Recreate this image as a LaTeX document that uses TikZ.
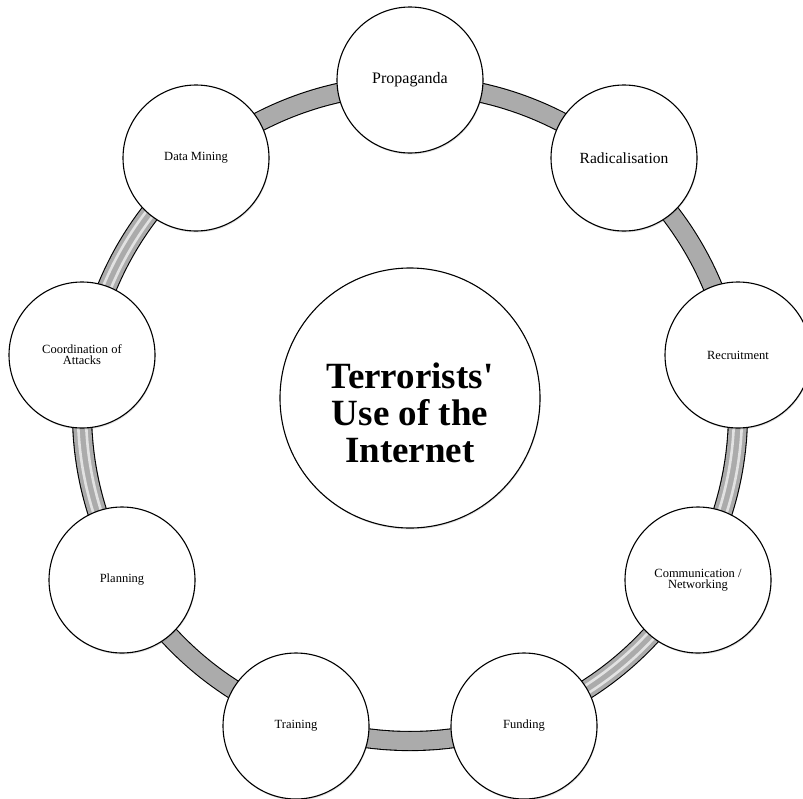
\documentclass[tikz,border=0pt]{standalone}
\usepackage{fontspec}
\setmainfont{Liberation Serif}
\newfontfamily\hubfont{Liberation Serif}
\usetikzlibrary{shadows}
\pgfdeclarelayer{background}
\pgfsetlayers{background,main}
\definecolor{bandgray}{HTML}{ABABAB}
\definecolor{stripegray}{HTML}{E2E2E2}
\begin{document}
\begin{tikzpicture}[x=1pt,y=-1pt,
  item/.style={circle,draw=black,line width=1.1pt,fill=white,minimum size=146pt,inner sep=0pt,align=center,
    font=\fontsize{12.5}{11}\selectfont,
    drop shadow={shadow xshift=0.6pt,shadow yshift=-1.4pt,opacity=0.25}},
  bigitem/.style={circle,draw=black,line width=1.1pt,fill=white,minimum size=260pt,inner sep=0pt,
    drop shadow={shadow xshift=0.6pt,shadow yshift=-1.4pt,opacity=0.25}},
  band/.style={draw=black,line width=1.1pt,double=bandgray,double distance=18pt},
  stripe/.style={draw=stripegray,line width=2.6pt}]
\useasboundingbox (0,0) rectangle (803,798);
\coordinate (O) at (410,413);
% outer items
\node[item,font=\fontsize{16}{17}\selectfont] (prop) at (410,80) {Propaganda};
\node[item,font=\fontsize{15.5}{16}\selectfont] (rad) at (624,158) {Radicalisation};
\node[item] (rec) at (738,355) {Recruitment};
\node[item] (com) at (698,580) {Communication /\\Networking};
\node[item] (fund) at (524,726) {Funding};
\node[item] (train) at (296,726) {Training};
\node[item] (plan) at (122,580) {Planning};
\node[item] (coord) at (82,355) {Coordination of\\Attacks};
\node[item] (dm) at (196,158) {Data Mining};
% hub
\node[bigitem] (hub) at (410,398) {};
\node[font=\hubfont\fontsize{37}{37}\selectfont\bfseries,align=center] (hubtext) at (410,413) {Terrorists'\\Use of the\\Internet};
% ring anchor points (on the ring, under each item)
\coordinate (rprop)  at ([shift={(-90:328)}]O);
\coordinate (rrad)   at ([shift={(-50:328)}]O);
\coordinate (rrec)   at ([shift={(-10:328)}]O);
\coordinate (rcom)   at ([shift={(30:328)}]O);
\coordinate (rfund)  at ([shift={(70:328)}]O);
\coordinate (rtrain) at ([shift={(110:328)}]O);
\coordinate (rplan)  at ([shift={(150:328)}]O);
\coordinate (rcoord) at ([shift={(190:328)}]O);
\coordinate (rdm)    at ([shift={(230:328)}]O);
% ring segments
\begin{pgfonlayer}{background}
\draw[band] (rprop)  arc[start angle=-90,end angle=-50,radius=328];
\draw[band] (rrad)   arc[start angle=-50,end angle=-10,radius=328];
\draw[band] (rrec)   arc[start angle=-10,end angle=30,radius=328];
\draw[band] (rcom)   arc[start angle=30,end angle=70,radius=328];
\draw[band] (rfund)  arc[start angle=70,end angle=110,radius=328];
\draw[band] (rtrain) arc[start angle=110,end angle=150,radius=328];
\draw[band] (rplan)  arc[start angle=150,end angle=190,radius=328];
\draw[band] (rcoord) arc[start angle=190,end angle=230,radius=328];
\draw[band] (rdm)    arc[start angle=230,end angle=270,radius=328];
% stripes on the tube
\foreach \a/\b in {-10/30,30/70,150/190,190/230}{
  \draw[stripe] ([shift={(\a:324)}]O) arc[start angle=\a,end angle=\b,radius=324];
  \draw[stripe] ([shift={(\a:332)}]O) arc[start angle=\a,end angle=\b,radius=332];
}
\end{pgfonlayer}
\end{tikzpicture}
\end{document}
